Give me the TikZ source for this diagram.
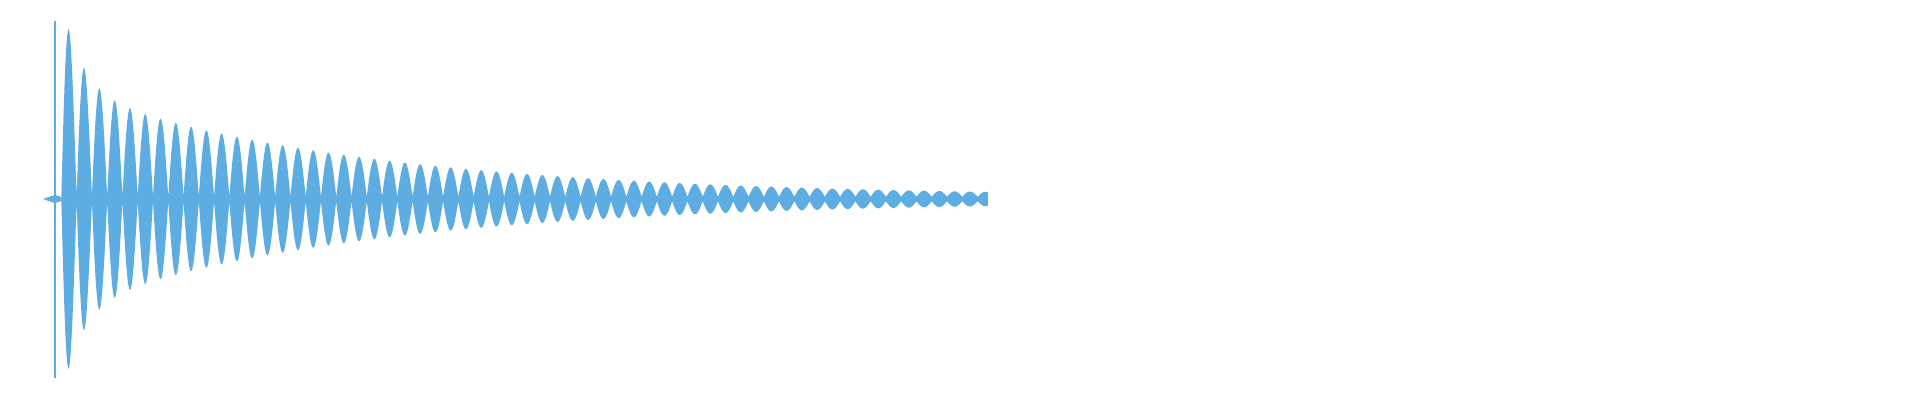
\documentclass[tikz,border=0pt]{standalone}
\definecolor{wave}{RGB}{93,173,226}
\begin{document}
\begin{tikzpicture}[x=1pt,y=-1pt,
  declare function={env(\t)=(110*exp(-(\t-55)/300)+124*exp(max(-(\t-55)/20,-12)))*abs(cos(180*mod((\t-69)/15.27,1)));}]
\useasboundingbox (0,0) rectangle (1920,400);
\fill[white] (0,0) rectangle (1920,400);
\draw[wave,line width=1.2pt] (55,21) -- (55,378);
\fill[wave] (43,199) -- (50,196.5) -- (55,195) -- (61.4,197) -- (61.4,201) -- (55,203) -- (50,201.5) -- cycle;
\fill[wave] plot[domain=61.4:988,samples=2400] (\x,{199-2.2-env(\x)})
 -- plot[domain=988:61.4,samples=2400] (\x,{199+2.2+env(\x)}) -- cycle;
\end{tikzpicture}
\end{document}
